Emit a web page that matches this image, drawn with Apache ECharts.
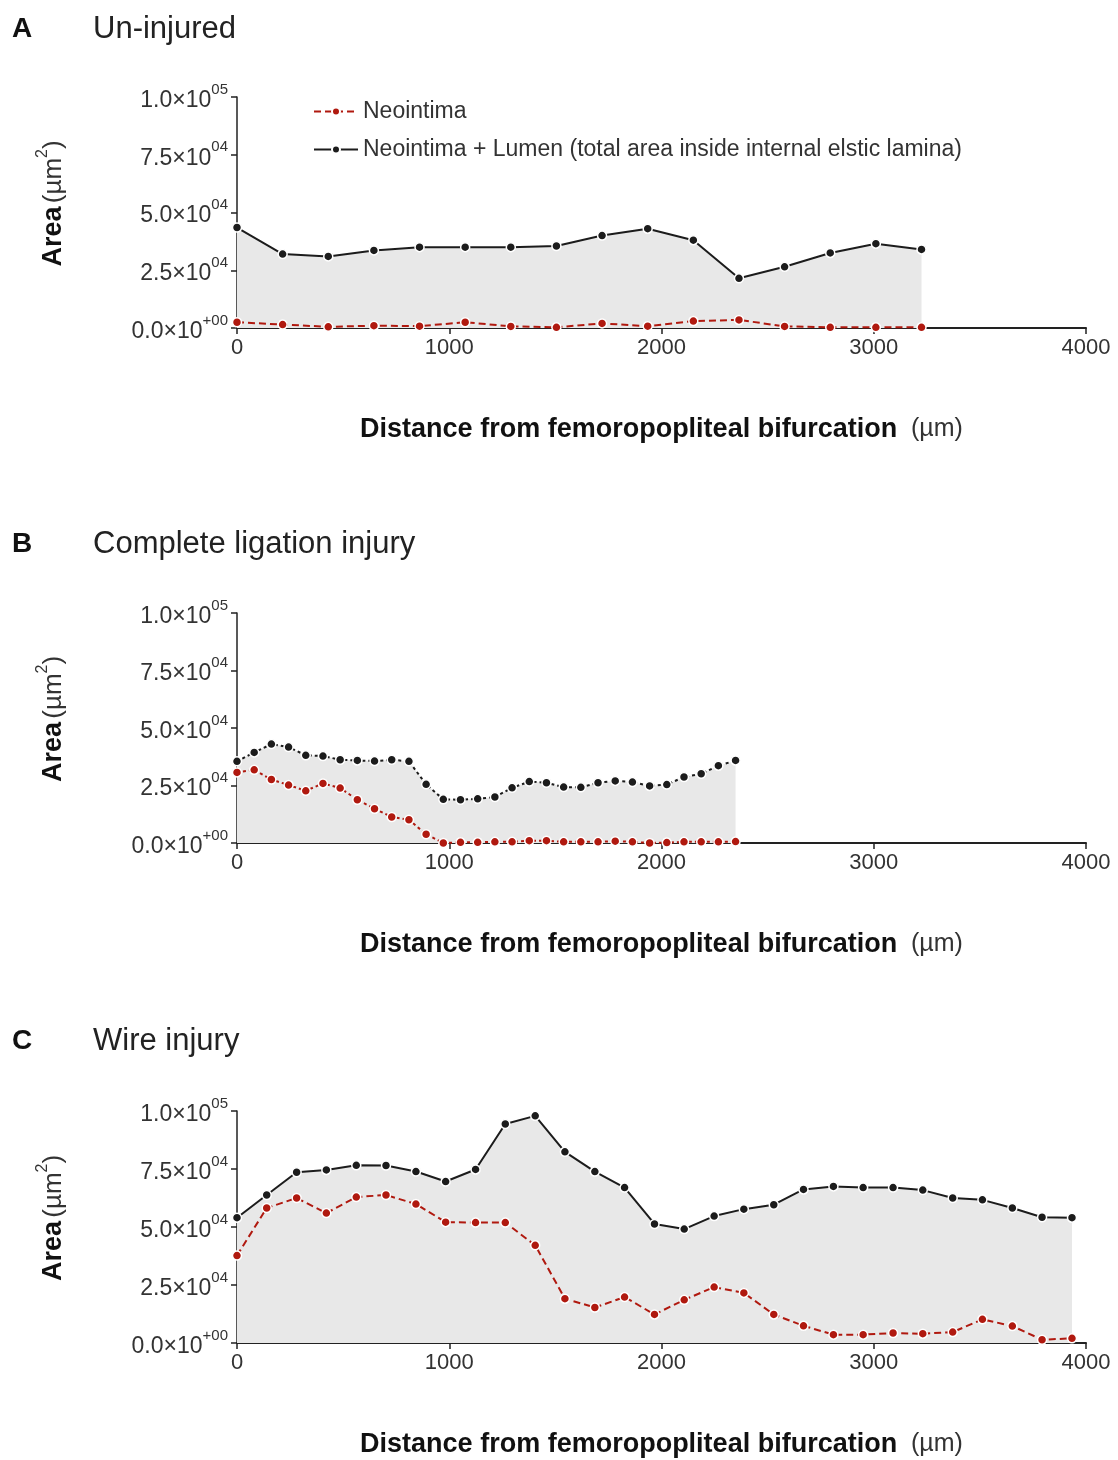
<!DOCTYPE html>
<html>
<head>
<meta charset="utf-8">
<script src="https://cdn.jsdelivr.net/npm/echarts@6/dist/echarts.min.js"></script>
<style>
  html, body { margin: 0; padding: 0; background: #fff; }
  #chart { width: 1118px; height: 1460px; }
</style>
</head>
<body>
<div id="chart"></div>
<script>
// distance (um) of each section, and the areas (um^2)
const xA = [0, 215, 430, 645, 860, 1075, 1290, 1505, 1720, 1935, 2150, 2365, 2580, 2795, 3010, 3225]
const totalA = [43500, 32000, 31000, 33600, 35000, 35000, 35000, 35500, 40000, 43000, 38000, 21500, 26500, 32500, 36500, 34000]
const neoA = [2500, 1500, 500, 1000, 800, 2500, 700, 300, 2000, 800, 3000, 3500, 700, 300, 300, 300]

const xB = [0, 81, 162, 243, 324, 405, 486, 567, 648, 729, 810, 891, 972, 1053, 1134, 1215, 1296, 1377, 1458, 1539, 1620, 1701, 1782, 1863, 1944, 2025, 2106, 2187, 2268, 2349]
const totalB = [35500, 39400, 43000, 41700, 38100, 37800, 36200, 35900, 35600, 36200, 35500, 25500, 19000, 18800, 19200, 20000, 24000, 26700, 26200, 24300, 24200, 26200, 27000, 26500, 24800, 25400, 28700, 30100, 33600, 35900]
const neoB = [30700, 31800, 27600, 25200, 22700, 25900, 23900, 18800, 14900, 11300, 10100, 3800, 0, 300, 300, 500, 500, 1000, 1000, 500, 500, 500, 800, 500, 0, 200, 500, 500, 500, 600]

const xC = [0, 140, 281, 421, 562, 702, 843, 983, 1124, 1264, 1405, 1545, 1686, 1826, 1967, 2107, 2248, 2388, 2529, 2669, 2810, 2950, 3091, 3231, 3372, 3512, 3653, 3793, 3934]
const totalC = [54000, 63800, 73600, 74600, 76600, 76500, 73900, 69600, 74800, 94400, 97900, 82400, 73900, 67000, 51300, 49100, 54700, 57700, 59600, 66200, 67500, 67000, 67000, 65900, 62500, 61700, 58200, 54200, 54000]
const neoC = [37700, 58200, 62500, 56000, 62900, 63800, 59900, 52100, 51900, 51900, 42100, 19100, 15300, 19800, 12300, 18600, 24100, 21600, 12300, 7400, 3600, 3600, 4300, 4000, 4700, 10200, 7300, 1400, 2000]

const panelLetters = ['A', 'B', 'C']
const panelTitles = ['Un-injured', 'Complete ligation injury', 'Wire injury']
const seriesNames = ['Neointima', 'Neointima + Lumen (total area inside internal elstic lamina)']

const yTickValues = [0, 25000, 50000, 75000, 100000]
const yTickMant = ['0.0', '2.5', '5.0', '7.5', '1.0']
const yTickExp = ['+00', '04', '04', '04', '05']

const FONT = 'Liberation Sans, Arial, sans-serif'
const RED = '#b0190f'
const BLACK = '#1c1c1c'

const chart = echarts.init(document.getElementById('chart'))

const gridTops = [97, 613, 1111]
const gridHeights = [231, 230, 232]
const titleTops = [9, 524, 1021]

const panels = [
  { x: xA, total: totalA, neo: neoA, totalDash: 'solid', neoDash: [7, 4] },
  { x: xB, total: totalB, neo: neoB, totalDash: [3, 3], neoDash: [3, 3] },
  { x: xC, total: totalC, neo: neoC, totalDash: 'solid', neoDash: [7, 4] }
]

const grids = []
const xAxes = []
const yAxes = []
const series = []
const titles = []

panels.forEach((p, i) => {
  grids.push({ left: 237, right: 32, top: gridTops[i], height: gridHeights[i] })

  xAxes.push({
    gridIndex: i,
    type: 'value',
    min: 0,
    max: 4000,
    interval: 1000,
    splitLine: { show: false },
    axisLine: { lineStyle: { color: '#222', width: 2 } },
    axisTick: { length: 6, lineStyle: { color: '#222', width: 1.5 } },
    axisLabel: { fontFamily: FONT, fontSize: 22, color: '#333', margin: 9, formatter: v => String(v) },
    name: '{b|Distance from femoropopliteal bifurcation}{n|  (µm)}',
    nameLocation: 'middle',
    nameGap: 88,
    nameTextStyle: {
      rich: {
        b: { fontFamily: FONT, fontSize: 27, fontWeight: 'bold', color: '#111' },
        n: { fontFamily: FONT, fontSize: 25, color: '#333' }
      }
    }
  })

  yAxes.push({
    gridIndex: i,
    type: 'value',
    min: 0,
    max: 100000,
    interval: 25000,
    splitLine: { show: false },
    axisLine: { show: true, lineStyle: { color: '#222', width: 1.5 } },
    axisTick: { show: true, length: 6, lineStyle: { color: '#222', width: 1.5 } },
    axisLabel: {
      margin: 9,
      formatter: v => {
        const k = yTickValues.indexOf(v)
        return '{m|' + yTickMant[k] + '×10}{e|' + yTickExp[k] + '}'
      },
      rich: {
        m: { fontFamily: FONT, fontSize: 23, color: '#333', verticalAlign: 'bottom', lineHeight: 30 },
        e: { fontFamily: FONT, fontSize: 15, color: '#333', verticalAlign: 'top' }
      }
    },
    name: '{b|Area} {n|(µm}{s|2}{n|)}',
    nameLocation: 'middle',
    nameRotate: 90,
    nameGap: 170,
    nameTextStyle: {
      padding: [0, 0, 0, 18],
      rich: {
        b: { fontFamily: FONT, fontSize: 27, fontWeight: 'bold', color: '#111', verticalAlign: 'bottom', lineHeight: 32 },
        n: { fontFamily: FONT, fontSize: 26, color: '#333', verticalAlign: 'bottom', lineHeight: 32 },
        s: { fontFamily: FONT, fontSize: 16, color: '#333', verticalAlign: 'top' }
      }
    }
  })

  series.push({
    name: seriesNames[1],
    type: 'line',
    xAxisIndex: i,
    yAxisIndex: i,
    data: p.x.map((d, k) => [d, p.total[k]]),
    symbol: 'circle',
    symbolSize: 9,
    lineStyle: { color: BLACK, width: 2, type: p.totalDash },
    itemStyle: { color: BLACK, borderColor: '#fff', borderWidth: 1.5 },
    areaStyle: { color: '#e8e8e8', opacity: 1 },
    z: 2
  })
  series.push({
    name: seriesNames[0],
    type: 'line',
    xAxisIndex: i,
    yAxisIndex: i,
    data: p.x.map((d, k) => [d, p.neo[k]]),
    symbol: 'circle',
    symbolSize: 9,
    lineStyle: { color: RED, width: 2, type: p.neoDash },
    itemStyle: { color: RED, borderColor: '#fff', borderWidth: 1.5 },
    z: 3
  })

  titles.push({
    text: panelLetters[i],
    left: 7,
    top: titleTops[i] + 1,
    textStyle: { fontFamily: FONT, fontSize: 28, fontWeight: 'bold', color: '#111' }
  })
  titles.push({
    text: panelTitles[i],
    left: 88,
    top: titleTops[i],
    textStyle: { fontFamily: FONT, fontSize: 31, fontWeight: 'normal', color: '#222' }
  })
})

chart.setOption({
  backgroundColor: '#fff',
  animation: false,
  title: titles,
  legend: {
    data: seriesNames,
    orient: 'vertical',
    left: 308,
    top: 95,
    itemGap: 15,
    itemWidth: 44,
    itemHeight: 10,
    textStyle: { fontFamily: FONT, fontSize: 23, color: '#333' }
  },
  grid: grids,
  xAxis: xAxes,
  yAxis: yAxes,
  series: series
})
</script>
</body>
</html>
